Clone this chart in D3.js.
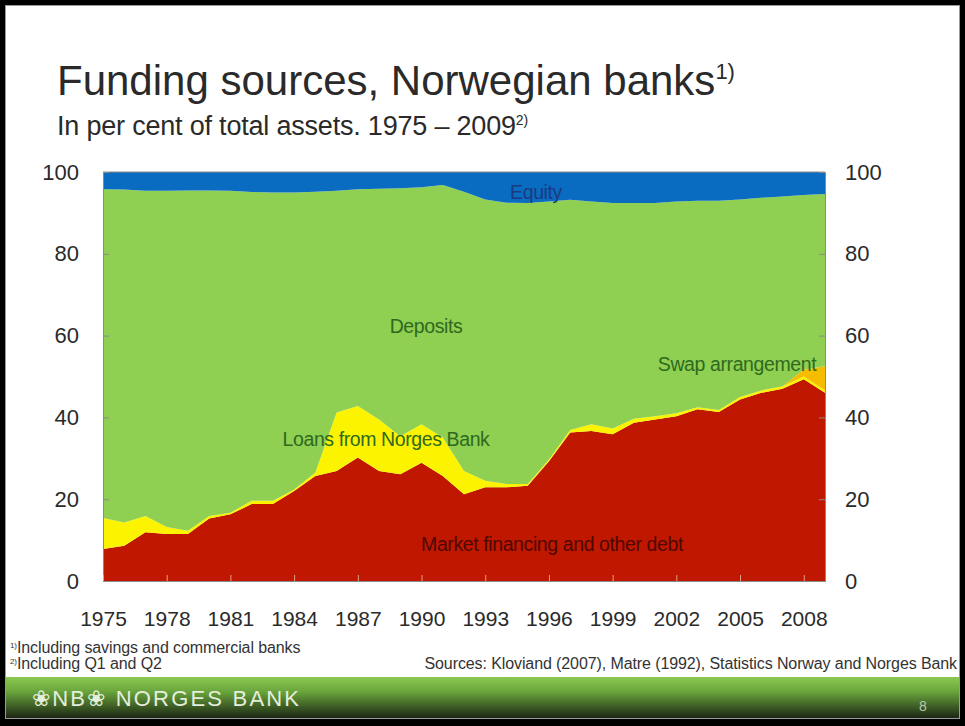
<!DOCTYPE html>
<html>
<head>
<meta charset="utf-8">
<script src="https://cdn.jsdelivr.net/npm/d3@7"></script>
<style>
  html, body { margin: 0; padding: 0; background: #fff; }
  svg { display: block; }
  text { font-family: "Liberation Sans", Arial, sans-serif; }
</style>
</head>
<body>
<svg id="chart" width="965" height="726"></svg>
<script>
// Funding sources of Norwegian banks, per cent of total assets
const years = [1975,1976,1977,1978,1979,1980,1981,1982,1983,1984,1985,1986,1987,1988,1989,1990,1991,1992,
  1993,1994,1995,1996,1997,1998,1999,2000,2001,2002,2003,2004,2005,2006,2007,2008,2009];
const marketFinancing = [7.8,8.6,11.9,11.5,11.5,15.3,16.3,18.8,18.8,22.0,25.7,26.9,30.2,26.9,26.1,28.9,25.7,21.2,
  22.9,22.9,23.3,29.3,36.3,36.7,35.9,38.7,39.5,40.3,42.0,41.3,44.4,46.0,47.0,49.3,46.0];
const loansNorgesBank = [7.6,5.7,4.0,1.7,0.8,0.6,0.4,0.8,0.8,0.4,0.8,14.3,12.6,12.6,9.3,9.4,9.4,5.7,
  1.6,0.8,0.4,0.4,0.6,1.6,1.4,1.0,0.8,0.7,0.5,0.5,0.6,0.6,0.6,0.7,0.6];
const swapArrangement = [0,0,0,0,0,0,0,0,0,0,0,0,0,0,0,0,0,0,
  0,0,0,0,0,0,0,0,0,0,0,0,0,0,0,1.7,5.9];
const deposits = [80.4,81.4,79.5,82.2,83.2,79.6,78.7,75.5,75.4,72.6,68.7,54.2,53.0,56.4,60.6,58.0,61.7,68.3,
  68.8,68.8,68.7,63.1,56.3,54.5,55.1,52.7,52.1,51.8,50.5,51.2,48.3,47.1,46.4,42.7,42.1];
const equity = [4.2,4.3,4.6,4.6,4.5,4.5,4.6,4.9,5.0,5.0,4.8,4.6,4.2,4.1,4.0,3.7,3.2,4.8,
  6.7,7.5,7.6,7.2,6.8,7.2,7.6,7.6,7.6,7.2,7.0,7.0,6.7,6.3,6.0,5.6,5.4];
const yTicks = [0,20,40,60,80,100];
const xTicks = [1975,1978,1981,1984,1987,1990,1993,1996,1999,2002,2005,2008];

const keys = ["market","loans","swap","deposits","equity"];
const colors = { market: "#c01700", loans: "#fbf300", swap: "#f6bd00", deposits: "#8fcf52", equity: "#0a6cc0" };

const rows = years.map((y, i) => ({
  year: y, market: marketFinancing[i], loans: loansNorgesBank[i], swap: swapArrangement[i],
  deposits: deposits[i], equity: equity[i]
}));

const svg = d3.select("#chart");

// Slide frame
svg.append("rect").attr("x", 0).attr("y", 0).attr("width", 965).attr("height", 726).attr("fill", "#000");
svg.append("rect").attr("x", 5).attr("y", 5).attr("width", 955).attr("height", 714).attr("fill", "#9a9a9a");
svg.append("rect").attr("x", 6).attr("y", 6).attr("width", 953).attr("height", 712).attr("fill", "#fff");

// Title
const title = svg.append("text").attr("x", 57).attr("y", 95).attr("font-size", 42).attr("fill", "#2a2a2a");
title.append("tspan").text("Funding sources, Norwegian banks");
title.append("tspan").attr("font-size", 22).attr("dy", -16).text("1)");
const sub = svg.append("text").attr("x", 57).attr("y", 135).attr("font-size", 27).attr("fill", "#2a2a2a")
  .attr("letter-spacing", -0.2);
sub.append("tspan").text("In per cent of total assets. 1975 \u2013 2009");
sub.append("tspan").attr("font-size", 14).attr("dy", -10).text("2)");

// Plot
const x = d3.scaleLinear().domain([1975, 2009]).range([103, 825]);
const y = d3.scaleLinear().domain([0, 100]).range([581, 172]);

const stack = d3.stack().keys(keys);
const series = stack(rows);
const area = d3.area()
  .x(d => x(d.data.year))
  .y0(d => y(d[0]))
  .y1(d => y(d[1]));

svg.append("g").selectAll("path").data(series).join("path")
  .attr("d", area)
  .attr("fill", d => colors[d.key]);

// Axes
const axisColor = "#8a8a8a";
const left = svg.append("g").attr("transform", `translate(${x(1975)},0)`)
  .call(d3.axisLeft(y).tickValues(yTicks).tickSize(-6).tickPadding(24).tickFormat(d3.format("d")));
const right = svg.append("g").attr("transform", `translate(${x(2009)},0)`)
  .call(d3.axisRight(y).tickValues(yTicks).tickSize(-6).tickPadding(20).tickFormat(d3.format("d")));
const bottom = svg.append("g").attr("transform", `translate(0,${y(0)})`)
  .call(d3.axisBottom(x).tickValues(xTicks).tickSize(-6).tickPadding(30).tickFormat(d3.format("d")));
[left, right, bottom].forEach(g => {
  g.select(".domain").attr("stroke", axisColor);
  g.selectAll(".tick text").attr("font-size", 21).attr("fill", "#2a2a2a")
    .attr("font-family", "Liberation Sans, Arial, sans-serif");
});
left.selectAll(".tick text").attr("font-size", 22);
right.selectAll(".tick text").attr("font-size", 22);
left.selectAll(".tick line").attr("stroke", axisColor);
right.selectAll(".tick line").attr("stroke", axisColor);
bottom.selectAll(".tick line").attr("stroke", "#e0a090");
svg.append("line").attr("x1", x(1975)).attr("x2", x(2009)).attr("y1", y(100)).attr("y2", y(100))
  .attr("stroke", axisColor);

// Series labels
const labels = [
  { text: "Equity", x: 536, y: 199, fill: "#1a3a80" },
  { text: "Deposits", x: 426, y: 333, fill: "#2e6a1e" },
  { text: "Loans from Norges Bank", x: 386, y: 446, fill: "#2e6a1e" },
  { text: "Swap arrangement", x: 737, y: 371, fill: "#2e6a1e" },
  { text: "Market financing and other debt", x: 552, y: 551, fill: "#4e0800" }
];
svg.append("g").selectAll("text").data(labels).join("text")
  .attr("x", d => d.x).attr("y", d => d.y)
  .attr("text-anchor", "middle")
  .attr("font-size", 19.5).attr("letter-spacing", -0.4)
  .attr("fill", d => d.fill)
  .text(d => d.text);

// Footnotes and sources
const fn1 = svg.append("text").attr("x", 10).attr("y", 653).attr("font-size", 16).attr("fill", "#333").attr("letter-spacing", -0.1);
fn1.append("tspan").attr("font-size", 8).attr("dy", -5).text("1)");
fn1.append("tspan").attr("dy", 5).text("Including savings and commercial banks");
const fn2 = svg.append("text").attr("x", 10).attr("y", 669).attr("font-size", 16).attr("fill", "#333").attr("letter-spacing", -0.1);
fn2.append("tspan").attr("font-size", 8).attr("dy", -5).text("2)");
fn2.append("tspan").attr("dy", 5).text("Including Q1 and Q2");
svg.append("text").attr("x", 957).attr("y", 669).attr("text-anchor", "end")
  .attr("font-size", 16).attr("fill", "#333").attr("letter-spacing", -0.1)
  .text("Sources: Kloviand (2007), Matre (1992), Statistics Norway and Norges Bank");

// Footer band
const defs = svg.append("defs");
const grad = defs.append("linearGradient").attr("id", "band").attr("x1", 0).attr("y1", 0).attr("x2", 0).attr("y2", 1);
grad.append("stop").attr("offset", "0%").attr("stop-color", "#8cc850");
grad.append("stop").attr("offset", "35%").attr("stop-color", "#6aa63c");
grad.append("stop").attr("offset", "100%").attr("stop-color", "#1c2614");
svg.append("rect").attr("x", 6).attr("y", 677).attr("width", 953).attr("height", 41).attr("fill", "url(#band)");
svg.append("text").attr("x", 32).attr("y", 706).attr("font-size", 22).attr("fill", "#e4eedc")
  .attr("letter-spacing", 2.2)
  .text("\u2740NB\u2740 NORGES BANK");
svg.append("text").attr("x", 919).attr("y", 711).attr("font-size", 14).attr("fill", "#b8c8b0").text("8");
</script>
</body>
</html>
